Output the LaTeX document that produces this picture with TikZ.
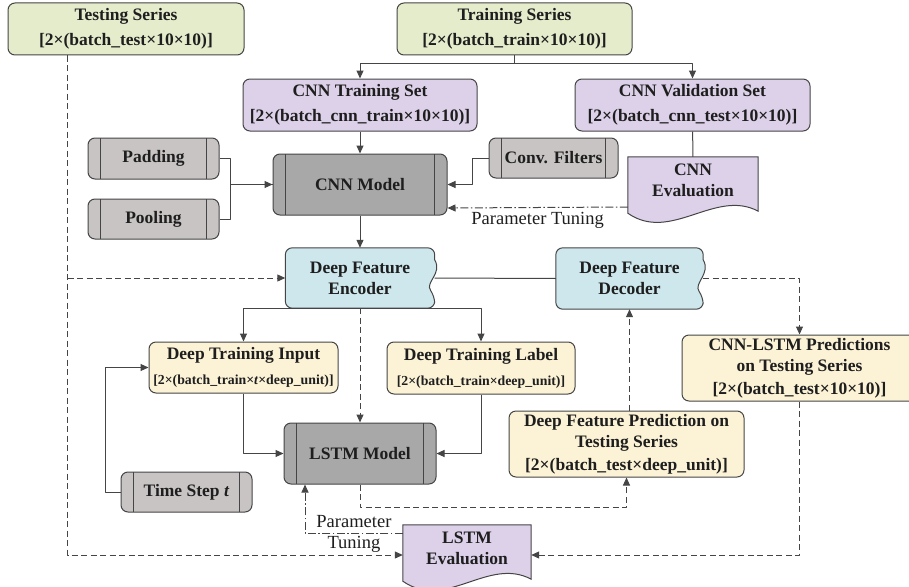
\documentclass[tikz,border=0pt]{standalone}
\usepackage{fontspec}
\setmainfont{Liberation Serif}
\usetikzlibrary{arrows.meta,calc,backgrounds}
\definecolor{linegray}{HTML}{454545}
\definecolor{ink}{HTML}{1E1E1E}
\definecolor{seriesfill}{HTML}{E5ECCC}
\definecolor{setfill}{HTML}{DDD1E9}
\definecolor{procfill}{HTML}{C9C4C4}
\definecolor{modelfill}{HTML}{A8A8A8}
\definecolor{codecfill}{HTML}{CDE7EC}
\definecolor{datafill}{HTML}{FCF3D7}
\newcommand{\bxfont}{\fontsize{17.5}{21}\selectfont\bfseries}
\newcommand{\dimsfont}{\fontsize{13.8}{16}\selectfont\bfseries}
\newcommand{\tunefont}{\fontsize{18.5}{21}\selectfont}
\tikzset{
  every picture/.style={line join=round, >={Triangle[length=8pt,width=7pt]}},
  wh/.style 2 args={minimum width=#1pt, minimum height=#2pt},
  box/.style={draw=linegray, line width=1pt, rounded corners=7pt, align=center,
    inner sep=0pt, text=ink, font=\bxfont},
  series/.style={box, fill=seriesfill},
  cnnset/.style={box, fill=setfill},
  data/.style={box, fill=datafill},
  proc/.style={box, fill=procfill, path picture={
    \draw[draw=linegray, line width=1pt]
      ([xshift=12.5pt]path picture bounding box.north west) -- ([xshift=12.5pt]path picture bounding box.south west)
      ([xshift=-12.5pt]path picture bounding box.north east) -- ([xshift=-12.5pt]path picture bounding box.south east);}},
  model/.style={proc, fill=modelfill},
  plain/.style={align=center, inner sep=0pt, text=ink, font=\bxfont},
  link/.style={draw=linegray, line width=1pt},
  flow/.style={link, ->},
  dsh/.style={flow, dash pattern=on 6pt off 3.5pt},
  tune/.style={flow, dash pattern=on 8pt off 2.5pt on 1.5pt off 2.5pt},
}

\begin{document}
\begin{tikzpicture}[x=1pt,y=-1pt]
\useasboundingbox (0,0) rectangle (909,586);
\clip (0,0) rectangle (909,586);

% data series and CNN stage
\node[series, wh={236}{52}] (test) at (126,29) {Testing Series\\[4pt][2×(batch\_test×10×10)]};
\node[series, wh={235}{52}] (train) at (514.5,29) {Training Series\\[4pt][2×(batch\_train×10×10)]};
\node[cnnset, wh={234}{52}] (cnntrain) at (360,105) {CNN Training Set\\[4pt][2×(batch\_cnn\_train×10×10)]};
\node[cnnset, wh={235}{52}] (cnnval) at (692.5,105) {CNN Validation Set\\[4pt][2×(batch\_cnn\_test×10×10)]};
\node[proc, wh={131}{41}] (padding) at (153.5,158.5) {Padding};
\node[proc, wh={131}{40}] (pooling) at (153.5,219) {Pooling};
\node[model, wh={174}{61}] (cnnmodel) at (360,184.5) {CNN Model};
\node[proc, wh={129}{40}] (filters) at (553.5,158) {Conv. Filters};
\node[plain, wh={130}{46}] (cnneval) at (693,180) {CNN\\Evaluation};

% deep features and LSTM stage
\node[plain, wh={149}{60}] (encoder) at (360,278) {Deep Feature\\Encoder};
\node[plain, wh={147}{61}] (decoder) at (629.5,278.5) {Deep Feature\\Decoder};
\node[data, wh={189}{51}] (dtinput) at (243.5,367.5) {Deep Training Input\\[4pt]{\dimsfont[2×(batch\_train×\textit{t}×deep\_unit)]}};
\node[data, wh={188}{52}] (dtlabel) at (481,368) {Deep Training Label\\[4pt]{\dimsfont[2×(batch\_train×deep\_unit)]}};
\node[model, wh={152}{61}] (lstm) at (360,453.5) {LSTM Model};
\node[proc, wh={131}{40}] (timestep) at (186.5,492) {Time Step \textit{t}};
\node[data, wh={235}{66}] (dfpred) at (626.5,444) {Deep Feature Prediction on\\Testing Series\\[2pt][2×(batch\_test×deep\_unit)]};
\node[data, wh={235}{66}] (cnnlstm) at (799.5,368) {CNN-LSTM Predictions\\on Testing Series\\[2pt][2×(batch\_test×10×10)]};
\node[plain, wh={128}{46}] (lstmeval) at (467,548) {LSTM\\Evaluation};

% outlines of the wavy boxes
\begin{scope}[on background layer]
  \foreach \n in {encoder,decoder}
    \filldraw[fill=codecfill, draw=linegray, line width=1pt, rounded corners=7pt]
      ($(\n.north east)+(0,12)$) -- (\n.north east) -- (\n.north west) -- (\n.south west)
      -- (\n.south east) -- ($(\n.south east)+(0,-12)$) [sharp corners]
      .. controls +(-10,-14) and +(8,14) .. ($(\n.north east)+(0,12)$) -- cycle;
  \foreach \n in {cnneval,lstmeval}
    \filldraw[fill=setfill, draw=linegray, line width=1pt]
      (\n.north west) -- (\n.north east) -- ($(\n.south east)+(0,8)$)
      .. controls +(-43,-23) and +(43,30) .. ($(\n.south west)+(0,10)$) -- cycle;
\end{scope}

% CNN connectors
\draw[flow] (train.south) -- ++(0,8) -| (cnntrain.north);
\draw[flow] (train.south) -- ++(0,8) -| (cnnval.north);
\draw[flow] (cnntrain) -- (cnnmodel);
\draw[flow] (padding.east) -- ++(11,0) |- (cnnmodel.west);
\draw[link] (pooling.east) -- ++(11,0) |- (cnnmodel.west);
\draw[flow] (filters.west) -- ++(-16,0) |- (cnnmodel.east);
\draw[link] (cnnval) -- (cnneval);
\draw[tune] ([yshift=-27pt]cnneval.west) -- ([yshift=-23.5pt]cnnmodel.east)
  node[midway, below=1pt, font=\tunefont, text=ink] {Parameter Tuning};
\draw[flow] (cnnmodel) -- (encoder);

% testing series path
\coordinate (testline) at ([xshift=60pt]test.south west);
\draw[dsh] (testline) |- ([yshift=-7pt]lstmeval.west);
\draw[dsh] (testline |- encoder.west) -- (encoder.west);

% LSTM connectors
\draw[link] (encoder.east) -- (decoder.west);
\draw[flow] (encoder.south) -| (dtinput.north);
\draw[flow] (encoder.south) -| (dtlabel.north);
\draw[dsh] (encoder.south) -- (lstm.north);
\draw[flow] (dtinput.south) |- (lstm.west);
\draw[flow] (dtlabel.south) |- (lstm.east);
\draw[flow] (timestep.west) -- ++(-15,0) |- (dtinput.west);
\draw[dsh] (lstm.south) -- ++(0,23) -| (dfpred.south);
\draw[dsh] (dfpred.north -| decoder.south) -- (decoder.south);
\draw[dsh] (decoder.east) -| (cnnlstm.north);
\draw[dsh] (cnnlstm.south) |- ([yshift=-7pt]lstmeval.east);
\draw[tune] ([yshift=14.5pt]lstmeval.west) -| ([xshift=-55pt]lstm.south)
  node[pos=0.25, font=\tunefont, align=center, text=ink] {Parameter\\Tuning};
\end{tikzpicture}
\end{document}
